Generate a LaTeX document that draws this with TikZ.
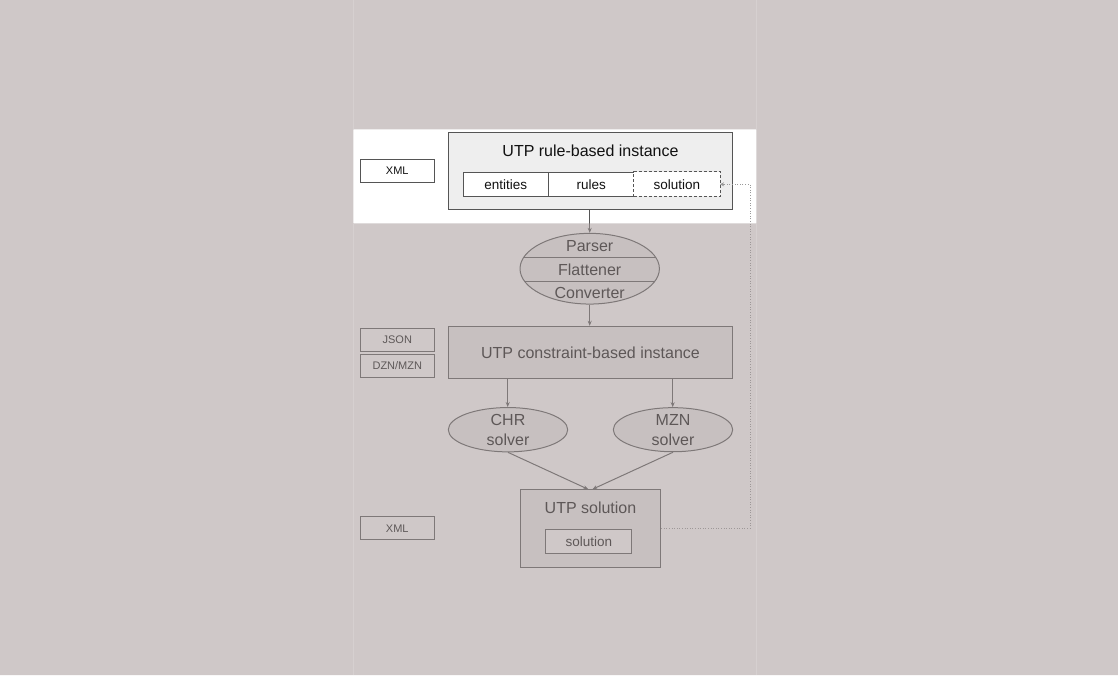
\documentclass[tikz,border=0pt]{standalone}
\usepackage{fontspec}
\setmainfont{Liberation Sans}
\usetikzlibrary{arrows.meta,shapes.geometric}
\definecolor{pagebg}{HTML}{FFFFFF}
\definecolor{veil}{RGB}{164,152,152}
\definecolor{boxfill}{HTML}{EEEEEE}
\definecolor{boxline}{HTML}{555555}
\definecolor{txt}{HTML}{111111}
\definecolor{dotc}{HTML}{999999}
\definecolor{edgec}{HTML}{D6D0D0}
\tikzset{
  big/.style={font=\fontsize{16}{20}\selectfont},
  mid/.style={font=\fontsize{13.5}{16}\selectfont},
  small/.style={font=\fontsize{11}{13}\selectfont},
  box/.style={draw=boxline, line width=1pt, rectangle, inner sep=0pt, text=txt},
  fmtbox/.style={box, fill=white, small, minimum width=74pt, minimum height=23pt},
  cell/.style={box, fill=white, mid, minimum width=85.5pt, minimum height=24pt},
  conn/.style={draw=boxline, line width=1pt, -{Stealth[length=5pt,width=4pt]}},
  dotconn/.style={draw=dotc, line width=1pt, dash pattern=on 1pt off 1.6pt, -{Stealth[length=4pt,width=4pt]}},
  solver/.style={box, ellipse, fill=boxfill, big, align=center, minimum width=119.4pt, minimum height=44pt},
}
\begin{document}
\begin{tikzpicture}[x=1pt,y=-1pt]
\useasboundingbox (0,0) rectangle (1118,675);
\fill[pagebg] (0,0) rectangle (1118,675);

% top: rule-based instance
\node[box, fill=boxfill, minimum width=284.4pt, minimum height=77pt] (rbi) at (590.5,170.8) {};
\node[big, text=txt] (rbit) at (590.5,150.5) {UTP rule-based instance};
\node[cell] (ent) at (505.8,184.3) {entities};
\node[cell] (rul) at (591.3,184.3) {rules};
\node[cell, draw=none] (sol) at (676.8,184.3) {solution};
\draw[boxline, line width=1pt, dash pattern=on 3pt off 2pt] (sol.south west) rectangle (sol.north east);
\node[fmtbox] (xml1) at (397.3,170.8) {XML};

% parser/flattener/converter ellipse
\node[box, ellipse, fill=boxfill, minimum width=139.4pt, minimum height=70.7pt] (pfc) at (589.7,268.7) {};
\begin{scope}
  \clip (589.7,268.7) ellipse (69.7 and 35.35);
  \draw[boxline, line width=1pt] (500,257) -- (680,257);
  \draw[boxline, line width=1pt] (500,281.3) -- (680,281.3);
\end{scope}
\node[big, text=txt] (pars) at (589.7,245.7) {Parser};
\node[big, text=txt] (flat) at (589.7,269.3) {Flattener};
\node[big, text=txt] (conv) at (589.7,293.3) {Converter};

% constraint-based instance
\node[box, fill=boxfill, big, minimum width=284.4pt, minimum height=52pt] (cbi) at (590.5,352.3) {UTP constraint-based instance};
\node[fmtbox] (json) at (397.3,339.5) {JSON};
\node[fmtbox] (dzn) at (397.3,365.8) {DZN/MZN};

% solvers
\node[solver] (chr) at (508,429.7) {CHR\\solver};
\node[solver] (mzn) at (673,429.7) {MZN\\solver};

% solution
\node[box, fill=boxfill, minimum width=140.4pt, minimum height=78pt] (usol) at (590.5,528.3) {};
\node[big, text=txt] (usolt) at (590.5,507.8) {UTP solution};
\node[box, fill=white, mid, minimum width=85.7pt, minimum height=23.7pt] (isol) at (588.8,541.2) {solution};
\node[fmtbox] (xml2) at (397.3,528.3) {XML};

% connectors
\draw[conn] (rbi.south -| pfc.north) -- (pfc.north);
\draw[conn] (pfc.south) -- (pfc.south |- cbi.north);
\coordinate (c1) at (507.7,0);
\coordinate (c2) at (672.7,0);
\draw[conn] (cbi.south -| c1) -- (chr.north -| c1);
\draw[conn] (cbi.south -| c2) -- (mzn.north -| c2);
\coordinate (t1) at (588.3,489.3);
\coordinate (t2) at (592.3,489.3);
\draw[conn] (chr.south) -- (t1);
\draw[conn] (mzn.south) -- (t2);
\coordinate (xc) at (750,0);
\draw[dotconn] (usol.east) -- (usol.east -| xc) -- (sol.east -| xc) -- (sol.east);

% veil over everything except the highlighted band
\fill[veil, opacity=0.525, even odd rule] (0,0) rectangle (1118,675) (353.3,129.3) rectangle (756.3,223.3);
\draw[edgec, line width=0.8pt] (353.3,223.3) -- (353.3,675);
\draw[edgec, line width=0.8pt] (353.3,0) -- (353.3,129.3);
\draw[edgec, line width=0.8pt] (756.3,223.3) -- (756.3,675);
\draw[edgec, line width=0.8pt] (756.3,0) -- (756.3,129.3);
\end{tikzpicture}
\end{document}
